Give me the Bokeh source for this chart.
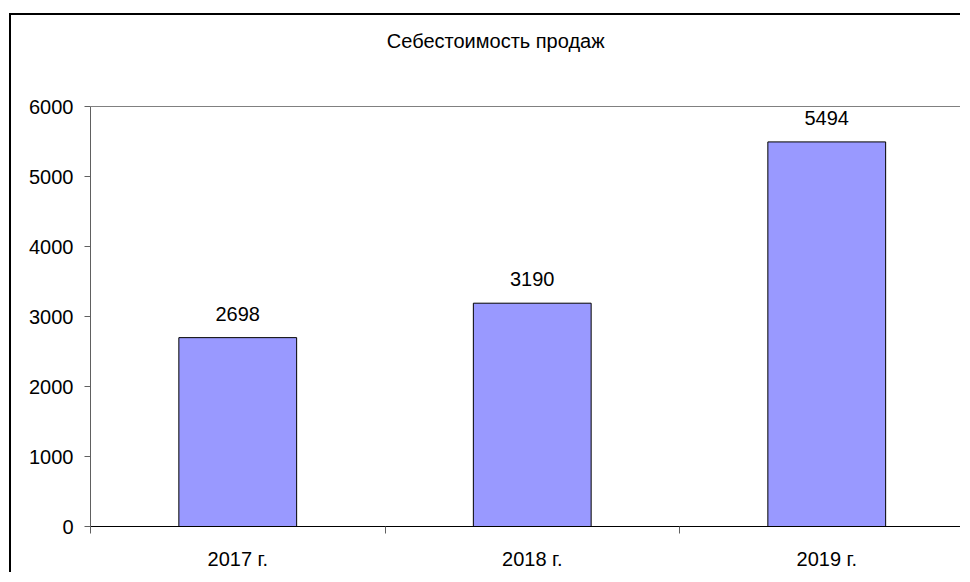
import numpy as np
from bokeh.plotting import figure
from bokeh.models import ColumnDataSource, LabelSet, Label, FixedTicker, Range1d
from bokeh.core.properties import value
from bokeh.embed import file_html
from bokeh.resources import INLINE

title_text = "Себестоимость  продаж"
categories = ["2017 г.", "2018 г.", "2019 г."]
values = [2698, 3190, 5494]
y_ticks = [0, 1000, 2000, 3000, 4000, 5000, 6000]

FONT = "Liberation Sans"
FS = "20px"
PX_PER_CAT = 294.5
FRAME_W = 872
PX_PER_UNIT = 420 / 6000
TOP_SPACE = 91  # pixels above the 6000 line

xpos = np.arange(len(categories)) + 0.5
src = ColumnDataSource(dict(x=xpos, top=values, lab=[str(v) for v in values]))

p = figure(width=951, height=559, output_backend="svg", toolbar_location=None,
           x_range=Range1d(0, FRAME_W / PX_PER_CAT),
           y_range=Range1d(0, y_ticks[-1] + TOP_SPACE / PX_PER_UNIT),
           min_border_left=79, min_border_right=0, min_border_top=0, min_border_bottom=48)
p.styles = {"margin-top": "13px", "margin-left": "9px",
            "border-left": "2px solid black", "border-top": "2px solid black"}
p.outline_line_color = None
p.background_fill_color = "white"
p.border_fill_color = "white"

# chart title
title = Label(x=408 / PX_PER_CAT, y=y_ticks[-1], y_offset=66, text=title_text,
              text_align="center", text_baseline="middle",
              text_font=FONT, text_font_size=FS, text_color="black")
p.add_layout(title)

p.vbar(x="x", top="top", width=0.4, source=src, fill_color="#9999FF", line_color="black", line_width=1)

labels = LabelSet(x="x", y="top", text="lab", source=src, text_align="center", text_baseline="alphabetic",
                  y_offset=17, text_font=value(FONT), text_font_size=FS, text_color="black")
p.add_layout(labels)

# y axis
p.yaxis.ticker = FixedTicker(ticks=y_ticks)
p.yaxis.bounds = (y_ticks[0], y_ticks[-1])
p.yaxis.axis_line_color = "#606060"
p.yaxis.major_tick_in = 0
p.yaxis.major_tick_out = 6
p.yaxis.major_tick_line_color = "#606060"
p.yaxis.minor_tick_line_color = None
p.yaxis.major_label_text_font = FONT
p.yaxis.major_label_text_font_size = FS
p.yaxis.major_label_text_color = "black"
p.yaxis.major_label_standoff = 11

# x axis
p.xaxis.ticker = FixedTicker(ticks=list(xpos), minor_ticks=list(np.arange(len(categories) + 1)))
p.xaxis.major_label_overrides = {float(x): c for x, c in zip(xpos, categories)}
p.xaxis.axis_line_color = "black"
p.xaxis.major_tick_in = 0
p.xaxis.major_tick_out = 0
p.xaxis.minor_tick_in = 0
p.xaxis.minor_tick_out = 7
p.xaxis.minor_tick_line_color = "#606060"
p.xaxis.major_label_text_font = FONT
p.xaxis.major_label_text_font_size = FS
p.xaxis.major_label_text_color = "black"
p.xaxis.major_label_standoff = 14

p.xgrid.grid_line_color = None
p.ygrid.ticker = FixedTicker(ticks=[y_ticks[-1]])
p.ygrid.grid_line_color = "#808080"

open("out.html", "w").write(file_html(p, INLINE))
